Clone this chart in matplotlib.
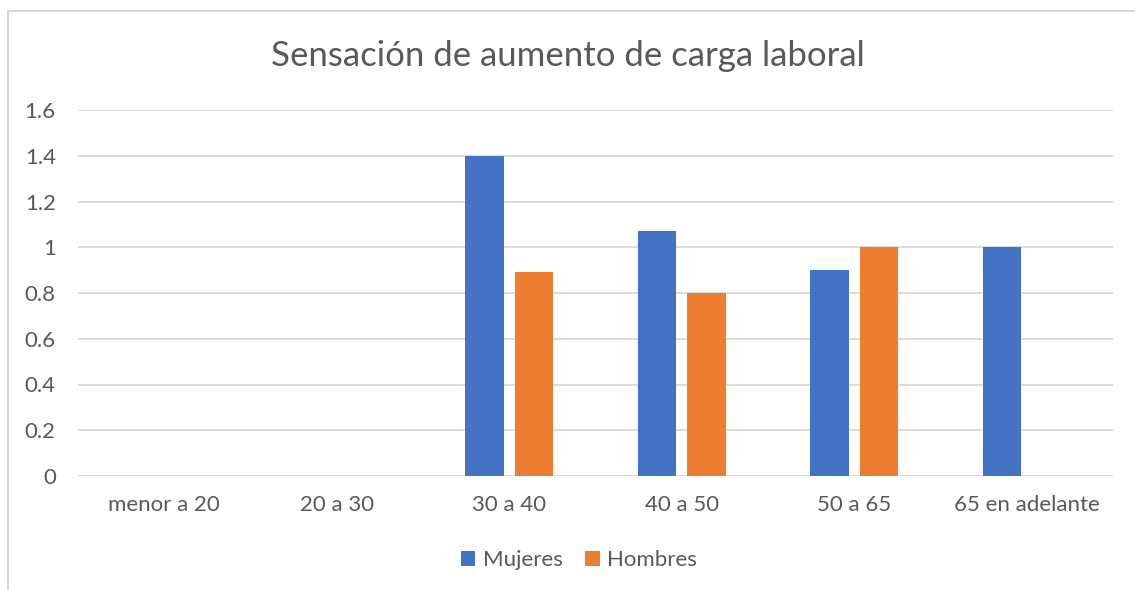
import matplotlib.pyplot as plt
import numpy as np
from matplotlib.patches import Rectangle

categories = ["menor a 20", "20 a 30", "30 a 40", "40 a 50", "50 a 65", "65 en adelante"]
mujeres = [0, 0, 1.4, 1.07, 0.9, 1.0]
hombres = [0, 0, 0.89, 0.8, 1.0, 0]
yticks = [0, 0.2, 0.4, 0.6, 0.8, 1, 1.2, 1.4, 1.6]
ytick_labels = ["0", "0.2", "0.4", "0.6", "0.8", "1", "1.2", "1.4", "1.6"]

BLUE = "#4472C4"
ORANGE = "#ED7D31"
TEXT = "#595959"
GRID = "#D9D9D9"

plt.rcParams["font.family"] = ["Lato", "DejaVu Sans"]

W, H = 1135, 590
fig = plt.figure(figsize=(W / 100, H / 100), dpi=100)
fig.patches.append(Rectangle((8 / W, -0.1), 1.2, 1.1 - 11 / H, transform=fig.transFigure,
                             fill=False, edgecolor=GRID, linewidth=1.5))

ax = fig.add_axes([78 / W, 1 - 476 / H, 1035 / W, 366 / H])
x = np.arange(len(categories))
width = 0.226
offset = 0.1435
ax.bar(x - offset, mujeres, width, color=BLUE, label="Mujeres", zorder=3)
ax.bar(x + offset, hombres, width, color=ORANGE, label="Hombres", zorder=3)

ax.set_xlim(-0.5, len(categories) - 0.5)
ax.set_ylim(0, 1.6)
ax.set_yticks(yticks)
ax.set_yticklabels(ytick_labels)
ax.set_xticks(x)
ax.set_xticklabels(categories)
ax.grid(axis="y", color=GRID, linewidth=1.3, zorder=0)
for s in ax.spines.values():
    s.set_visible(False)
ax.tick_params(axis="both", length=0, labelsize=16, colors=TEXT)
ax.tick_params(axis="y", pad=16)
ax.tick_params(axis="x", pad=14)

fig.text(0.5, 1 - 56 / H, "Sensación de aumento de carga laboral", ha="center", va="center",
         fontsize=25, color=TEXT)

ax.legend(loc="center", bbox_to_anchor=(579 / W, 1 - 560 / H), bbox_transform=fig.transFigure,
          ncol=2, frameon=False, fontsize=16, labelcolor=TEXT, handlelength=0.65, handleheight=0.65,
          handletextpad=0.35, columnspacing=1.0)

fig.savefig("out.png", dpi=100)
